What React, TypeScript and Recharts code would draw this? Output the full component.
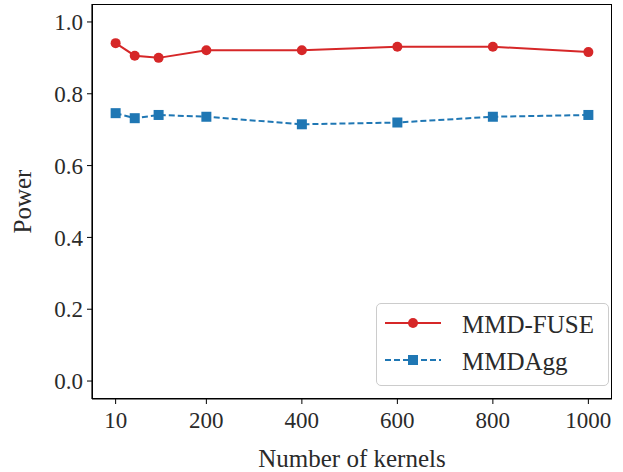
import { Line, LineChart, XAxis, YAxis } from "recharts";

const kernels = [10, 50, 100, 200, 400, 600, 800, 1000];
const fusePower = [0.941, 0.906, 0.9, 0.921, 0.921, 0.931, 0.931, 0.916];
const aggPower = [0.746, 0.732, 0.741, 0.736, 0.715, 0.72, 0.736, 0.741];
const xTicks = [10, 200, 400, 600, 800, 1000];
const yTicks = [0, 0.2, 0.4, 0.6, 0.8, 1.0];

const RED = "#d62728";
const BLUE = "#1f77b4";
const FONT = "'Liberation Serif', 'DejaVu Serif', serif";
const INK = "#2a2a2a";

const data = kernels.map((k, i) => ({ k, fuse: fusePower[i], agg: aggPower[i] }));

const SquareDot = (props: any) => {
  const { cx, cy, key } = props;
  if (cx == null || cy == null) return null;
  return <rect key={key} x={cx - 5} y={cy - 5} width={10} height={10} fill={BLUE} />;
};

function LegendBox() {
  return (
    <div
      style={{
        position: "absolute",
        left: 376,
        top: 303,
        width: 233,
        height: 83,
        boxSizing: "border-box",
        border: "1px solid #cccccc",
        borderRadius: 5,
        background: "#fff",
      }}
    >
      <svg width={231} height={81} style={{ position: "absolute", left: 0, top: 0 }}>
        <line x1={8} x2={64} y1={19} y2={19} stroke={RED} strokeWidth={2} />
        <circle cx={36} cy={19} r={5} fill={RED} />
        <line x1={8} x2={64} y1={56} y2={56} stroke={BLUE} strokeWidth={2} strokeDasharray="6 3" />
        <rect x={31} y={51} width={10} height={10} fill={BLUE} />
        <text x={85} y={20} dominantBaseline="central" fontFamily={FONT} fontSize={25} fill={INK}>
          MMD-FUSE
        </text>
        <text x={85} y={57} dominantBaseline="central" fontFamily={FONT} fontSize={25} fill={INK}>
          MMDAgg
        </text>
      </svg>
    </div>
  );
}

export default function App() {
  const tickStyle = { fontFamily: FONT, fontSize: 23, fill: INK };
  return (
    <div style={{ position: "absolute", left: 0, top: 0, width: 623, height: 472, background: "#fff" }}>
      <LineChart
        width={623}
        height={472}
        data={data}
        margin={{ top: 4, right: 11, bottom: 0, left: 0 }}
      >
        <XAxis
          dataKey="k"
          type="number"
          domain={[-39.5, 1049.5]}
          ticks={xTicks}
          tick={{ ...tickStyle, dy: 6 }}
          tickSize={5}
          axisLine={{ stroke: "#000", strokeWidth: 1.2 }}
          tickLine={{ stroke: "#000" }}
          height={73}
          label={{
            content: ({ viewBox }: any) => (
              <text
                x={viewBox.x + viewBox.width / 2}
                y={458}
                textAnchor="middle"
                dominantBaseline="central"
                fontFamily={FONT}
                fontSize={25}
                fill={INK}
              >
                Number of kernels
              </text>
            ),
          }}
        />
        <YAxis
          type="number"
          domain={[-0.05, 1.05]}
          ticks={yTicks}
          tickFormatter={(v: number) => v.toFixed(1)}
          tick={{ ...tickStyle, dx: -2 }}
          tickSize={5}
          width={92}
          axisLine={{ stroke: "#000", strokeWidth: 1.2 }}
          tickLine={{ stroke: "#000" }}
          label={{
            content: ({ viewBox }: any) => {
              const x = 22;
              const y = viewBox.y + viewBox.height / 2;
              return (
                <text
                  x={x}
                  y={y}
                  transform={`rotate(-90 ${x} ${y})`}
                  textAnchor="middle"
                  dominantBaseline="central"
                  fontFamily={FONT}
                  fontSize={25}
                  fill={INK}
                >
                  Power
                </text>
              );
            },
          }}
        />
        <Line
          dataKey="fuse"
          name="MMD-FUSE"
          stroke={RED}
          strokeWidth={2}
          dot={{ r: 5, fill: RED, stroke: RED, strokeWidth: 0 }}
          activeDot={false}
          isAnimationActive={false}
        />
        <Line
          dataKey="agg"
          name="MMDAgg"
          stroke={BLUE}
          strokeWidth={2}
          strokeDasharray="6 3"
          dot={<SquareDot />}
          activeDot={false}
          isAnimationActive={false}
        />
      </LineChart>
      <div
        style={{
          position: "absolute",
          left: 92,
          top: 4,
          width: 520,
          height: 395,
          boxSizing: "border-box",
          border: "1.2px solid #000",
          pointerEvents: "none",
        }}
      />
      <LegendBox />
    </div>
  );
}
